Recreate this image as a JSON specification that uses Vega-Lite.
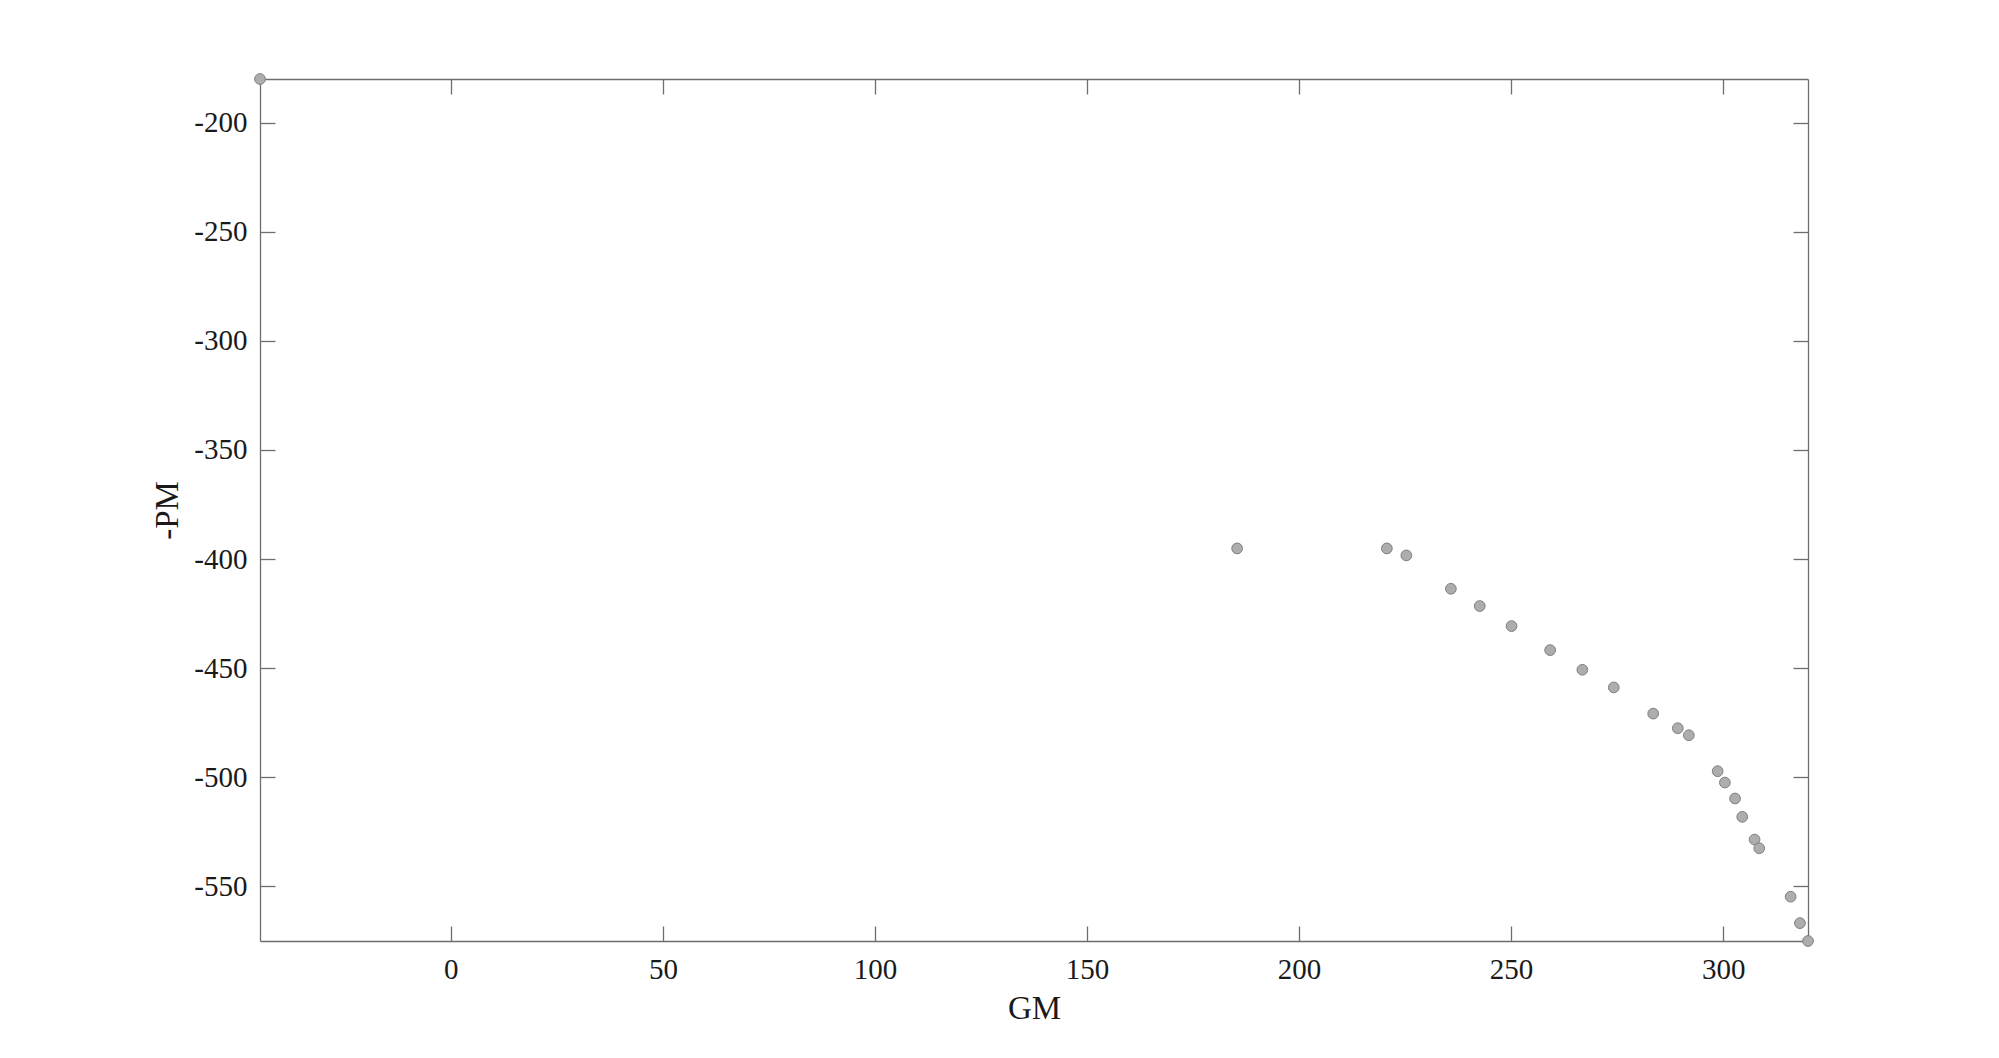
{
  "$schema": "https://vega.github.io/schema/vega-lite/v6.json",
  "autosize": "none",
  "padding": {"left": 260, "top": 79, "right": 191, "bottom": 117},
  "width": 1548,
  "height": 862,
  "background": "white",
  "config": {
    "view": {"stroke": null},
    "axis": {
      "labelFont": "Liberation Serif",
      "titleFont": "Liberation Serif",
      "labelFontSize": 29,
      "titleFontSize": 33,
      "titleFontWeight": "normal",
      "labelColor": "#1a1a1a",
      "titleColor": "#1a1a1a",
      "domainColor": "#6e6e6e",
      "tickColor": "#6e6e6e",
      "domainWidth": 1.3,
      "tickWidth": 1.3,
      "grid": false
    }
  },
  "data": {
    "values": [
      {"GM": -45, "PM": -180},
      {"GM": 185.4, "PM": -395.1},
      {"GM": 220.7, "PM": -395.1},
      {"GM": 225.3, "PM": -398.3},
      {"GM": 235.8, "PM": -413.6},
      {"GM": 242.6, "PM": -421.5},
      {"GM": 250.1, "PM": -430.7},
      {"GM": 259.2, "PM": -441.7},
      {"GM": 266.8, "PM": -450.7},
      {"GM": 274.2, "PM": -458.8},
      {"GM": 283.5, "PM": -470.8},
      {"GM": 289.3, "PM": -477.5},
      {"GM": 291.9, "PM": -480.7},
      {"GM": 298.7, "PM": -497.2},
      {"GM": 300.4, "PM": -502.4},
      {"GM": 302.8, "PM": -509.7},
      {"GM": 304.5, "PM": -518.1},
      {"GM": 307.4, "PM": -528.5},
      {"GM": 308.5, "PM": -532.5},
      {"GM": 315.9, "PM": -554.7},
      {"GM": 318.1, "PM": -566.8},
      {"GM": 320, "PM": -575}
    ]
  },
  "layer": [
    {
      "mark": {"type": "point", "opacity": 0},
      "encoding": {
        "x": {
          "field": "GM", "type": "quantitative",
          "axis": {"orient": "top", "title": null, "labels": false, "values": [0, 50, 100, 150, 200, 250, 300], "tickSize": -15}
        },
        "y": {
          "field": "PM", "type": "quantitative",
          "axis": {"orient": "right", "title": null, "labels": false, "values": [-550, -500, -450, -400, -350, -300, -250, -200], "tickSize": -15}
        }
      }
    },
    {
      "mark": {"type": "point", "filled": true, "fill": "#adadad", "stroke": "#7f7f7f", "strokeWidth": 1, "size": 115, "opacity": 1, "clip": false},
      "encoding": {
        "x": {
          "field": "GM", "type": "quantitative",
          "scale": {"domain": [-45, 320], "nice": false, "zero": false},
          "axis": {"orient": "bottom", "title": "GM", "values": [0, 50, 100, 150, 200, 250, 300], "tickSize": -15, "labelPadding": 29, "titlePadding": 8, "labelExpr": "'' + datum.value"}
        },
        "y": {
          "field": "PM", "type": "quantitative",
          "scale": {"domain": [-575, -180], "nice": false, "zero": false},
          "axis": {"orient": "left", "title": "-PM", "values": [-550, -500, -450, -400, -350, -300, -250, -200], "tickSize": -15, "labelPadding": 28, "titlePadding": 9, "labelExpr": "'' + datum.value"}
        }
      }
    }
  ],
  "resolve": {"axis": {"x": "independent", "y": "independent"}}
}
